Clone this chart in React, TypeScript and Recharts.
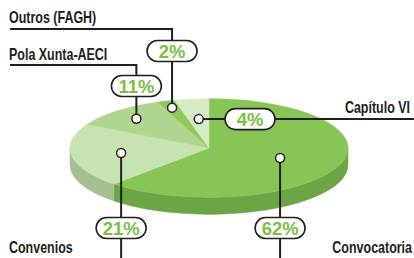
import { PieChart, Pie } from "recharts";

const categories = ["Convocatoria", "Convenios", "Pola Xunta-AECI", "Outros (FAGH)", "Capítulo VI"];
const shares = [62, 21, 11, 2, 4];

const topColors = ["#88c557", "#c8e3b2", "#aed68e", "#8dc95b", "#d5ebc5"];
const sideColors = ["#6ca545", "#a6bf92", "#93b878", "#76ad4c", "#b5cfa6"];

const data = categories.map((name, i) => ({ name, value: shares[i] }));

const W = 414;
const H = 258;
const TILT = 0.355; // vertical squash of the disc
const DEPTH = 17; // thickness of the disc
const INK = "#231f20";
const GREEN = "#7ac143";
const FONT = "'Liberation Sans', Arial, sans-serif";
const RAD = Math.PI / 180;

type Leader = {
  r: number; // where the dot sits, as a share of the radius
  dir: "up" | "down" | "right";
  elbow?: number;
  pill: number;
  side: "left" | "right";
  textY: number;
};

// where each callout goes
const leaders: Record<string, Leader> = {
  Convocatoria: { r: 0.55, dir: "down", pill: 228, side: "right", textY: 253 },
  Convenios: { r: 0.64, dir: "down", pill: 228, side: "left", textY: 253 },
  "Pola Xunta-AECI": { r: 0.79, dir: "up", elbow: 65, pill: 86, side: "left", textY: 60 },
  "Outros (FAGH)": { r: 0.86, dir: "up", elbow: 29, pill: 51, side: "left", textY: 23 },
  "Capítulo VI": { r: 0.59, dir: "right", pill: 250, side: "right", textY: 113 },
};

function pt(cx: number, cy: number, rx: number, a: number, k = 1) {
  return [cx + k * rx * Math.cos(a * RAD), cy - k * rx * TILT * Math.sin(a * RAD)];
}

function renderSlice(props: any) {
  const { cx, cy, outerRadius, index } = props;
  const s = Math.max(props.startAngle, props.endAngle);
  const e = Math.min(props.startAngle, props.endAngle);
  const rx = outerRadius;
  const ry = outerRadius * TILT;
  const [x1, y1] = pt(cx, cy, rx, s);
  const [x2, y2] = pt(cx, cy, rx, e);
  const large = s - e > 180 ? 1 : 0;
  const top = `M${cx},${cy} L${x1},${y1} A${rx},${ry} 0 ${large} 1 ${x2},${y2} Z`;

  // front wall only where the slice faces the viewer
  let side: string | null = null;
  const hi = Math.min(s, 0);
  const lo = Math.max(e, -180);
  if (hi > lo) {
    const [a, b] = pt(cx, cy, rx, hi);
    const [c, d] = pt(cx, cy, rx, lo);
    side = `M${a},${b} A${rx},${ry} 0 0 1 ${c},${d} L${c},${d + DEPTH} A${rx},${ry} 0 0 0 ${a},${b + DEPTH} Z`;
  }

  return (
    <g key={`slice-${index}`}>
      {side && <path d={side} fill={sideColors[index]} stroke={sideColors[index]} strokeWidth={0.5} />}
      <path d={top} fill={topColors[index]} stroke={topColors[index]} strokeWidth={0.5} />
    </g>
  );
}

function Label({ x, y, text, anchor }: { x: number; y: number; text: string; anchor: "start" | "end" }) {
  return (
    <text
      transform={`translate(${x},${y}) scale(0.78,1)`}
      textAnchor={anchor}
      fontFamily={FONT}
      fontWeight={700}
      fontSize={16}
      fill={INK}
    >
      {text}
    </text>
  );
}

function Pill({ x, y, text }: { x: number; y: number; text: string }) {
  return (
    <g>
      <rect x={x - 25} y={y - 10.5} width={50} height={21} rx={10.5} fill="#fff" stroke={INK} strokeWidth={1.6} />
      <text
        transform={`translate(${x},${y + 7}) scale(0.97,1)`}
        textAnchor="middle"
        fontFamily={FONT}
        fontWeight={700}
        fontSize={19}
        fill={GREEN}
      >
        {text}
      </text>
    </g>
  );
}

function renderLeader(props: any) {
  const { cx, cy, outerRadius, midAngle, index, percent } = props;
  const name = categories[index];
  const L = leaders[name];
  const [dx, dy] = pt(cx, cy, outerRadius, midAngle, L.r);
  const pct = `${Math.round(percent * 100)}%`;

  let line = "";
  let pillX = dx;
  let pillY = L.pill;
  if (L.dir === "up") line = `M${dx},${dy} V${L.elbow} H10`;
  if (L.dir === "down") line = `M${dx},${dy} V${H}`;
  if (L.dir === "right") {
    line = `M${dx},${dy} H${W}`;
    pillX = L.pill;
    pillY = dy;
  }

  return (
    <g key={`leader-${index}`}>
      <path d={line} fill="none" stroke={INK} strokeWidth={2} />
      <circle cx={dx} cy={dy} r={4.5} fill="#fff" stroke={INK} strokeWidth={1.5} />
      <Pill x={pillX} y={pillY} text={pct} />
      <Label
        x={L.side === "left" ? 9 : L.dir === "right" ? 410 : 412}
        y={L.textY}
        text={name}
        anchor={L.side === "left" ? "start" : "end"}
      />
    </g>
  );
}

export default function App() {
  return (
    <div style={{ position: "fixed", left: 0, top: 0, width: W, height: H, background: "#fff" }}>
      <PieChart width={W} height={H} margin={{ top: 0, right: 0, bottom: 0, left: 0 }}>
        <Pie
          data={data}
          dataKey="value"
          nameKey="name"
          cx={209}
          cy={148}
          outerRadius={139}
          startAngle={90}
          endAngle={-270}
          fill="none"
          stroke="none"
          label={renderSlice}
          labelLine={false}
          isAnimationActive={false}
        />
        <Pie
          data={data}
          dataKey="value"
          nameKey="name"
          cx={209}
          cy={148}
          outerRadius={139}
          startAngle={90}
          endAngle={-270}
          fill="none"
          stroke="none"
          label={renderLeader}
          labelLine={false}
          isAnimationActive={false}
        />
      </PieChart>
    </div>
  );
}
